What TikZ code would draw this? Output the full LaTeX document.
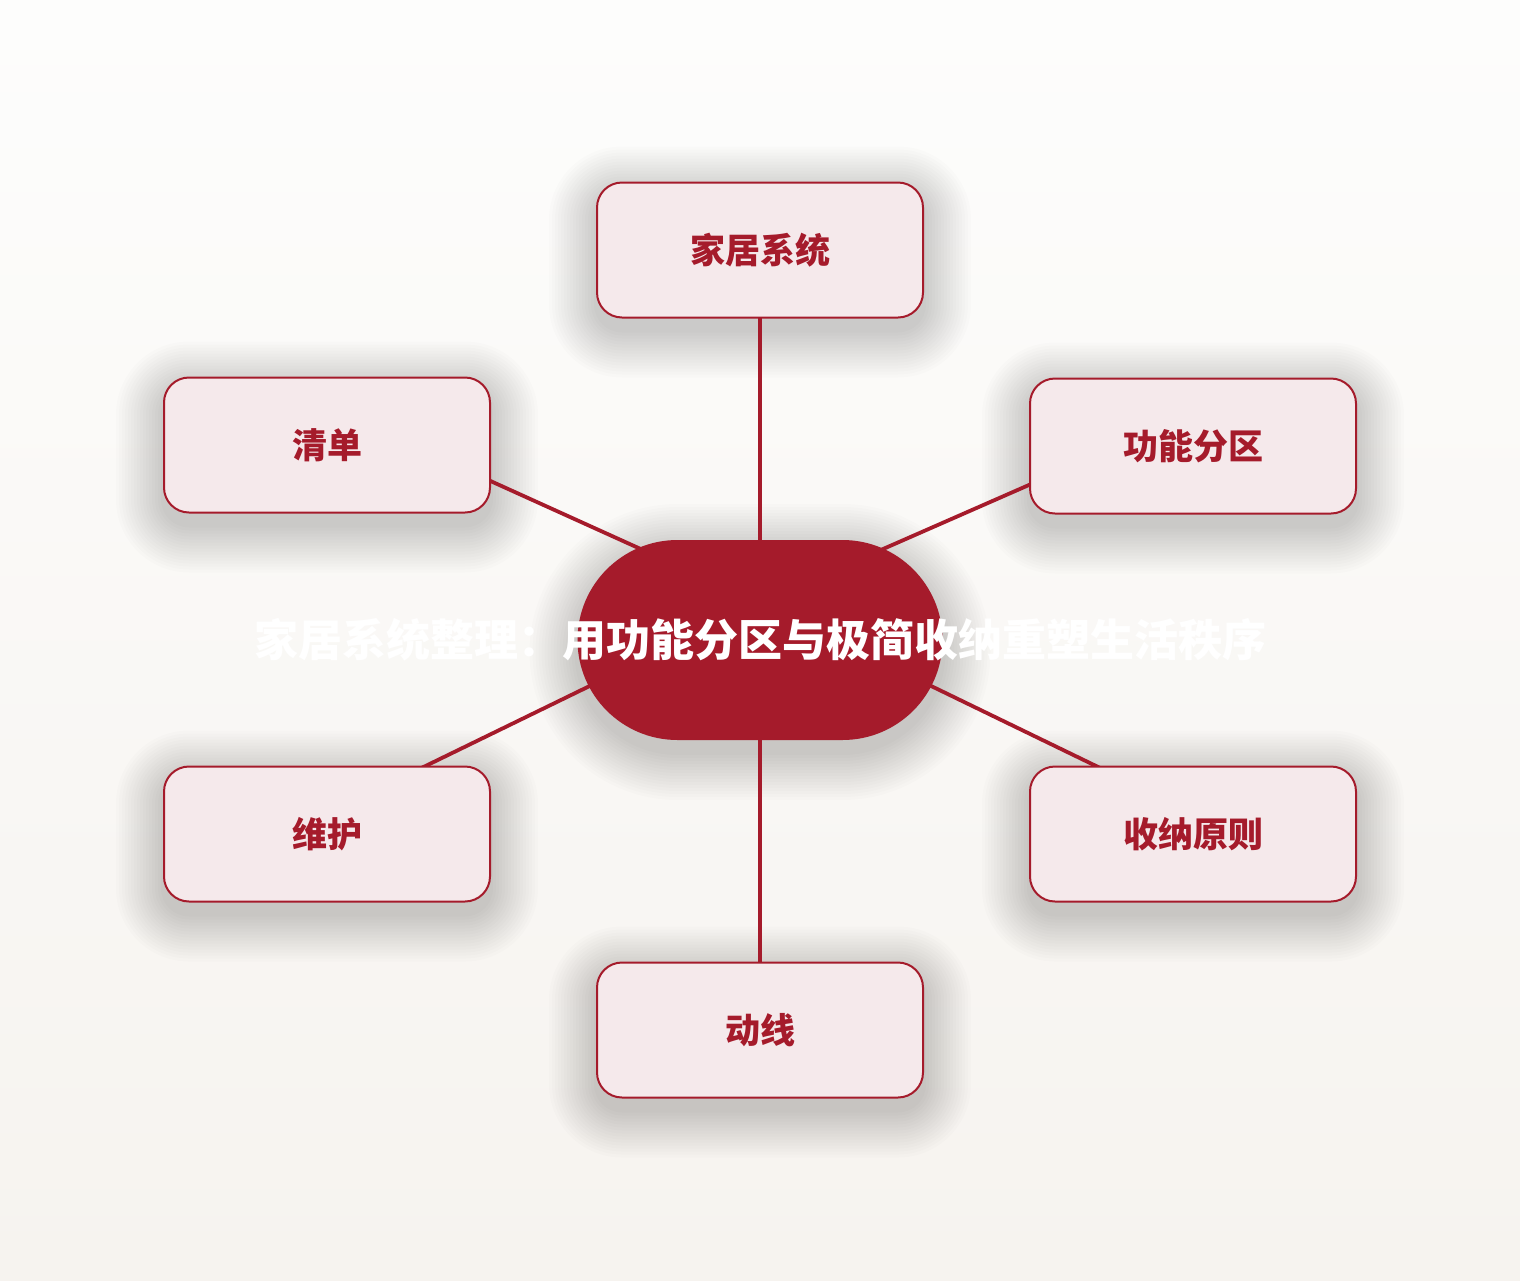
\documentclass[tikz,border=0pt]{standalone}
\usepackage{fontspec}
\newfontfamily\cjk{Noto Sans CJK SC}
\usepackage{xcolor}
\usepackage{tikz}
\usetikzlibrary{calc,backgrounds,shapes.misc,positioning}
\definecolor{brick}{HTML}{A51B2B}
\definecolor{blush}{HTML}{F5E9EB}
\definecolor{paperTop}{HTML}{FDFDFC}
\definecolor{paperBot}{HTML}{F6F3EF}
\pgfdeclarelayer{paper}
\pgfdeclarelayer{glow}
\pgfdeclarelayer{links}
\pgfsetlayers{paper,glow,links,main}
\tikzset{
  rootbox/.style={rounded rectangle,rounded rectangle arc length=180,fill=brick,
      minimum width=365pt,minimum height=200pt,inner sep=0pt},
  titletext/.style={text=white,font=\cjk\bfseries\fontsize{44pt}{50pt}\selectfont},
  topic/.style={rectangle,rounded corners=25pt,draw=brick,line width=2pt,fill=blush,
      minimum width=326pt,minimum height=135pt,inner sep=0pt,text=brick,
      font=\cjk\bfseries\fontsize{35pt}{40pt}\selectfont},
  link/.style={draw=brick,line width=3.8pt,line cap=round}
}
\newcommand{\rootat}[3]{\node[rootbox] (#1) at #2 {};
    \node[titletext] (#1Title) at (#1.center) {#3};}
\newcommand{\topicat}[3]{\node[topic] (#1) at #2 {#3};}
\newcommand{\connect}[3][]{\draw[link,#1] (#2)--(#3);}
% soft shadow: node, half width, half height, corner radius
\newcommand{\glow}[4]{\foreach \g in {1,...,16}
    \fill[black,opacity=0.011,rounded corners=#4+3pt*\g]
        ($(#1.center)+(-#2-3*\g,-#3-3*\g+12)$) rectangle
        ($(#1.center)+(#2+3*\g,#3+3*\g+12)$);}

\begin{document}
\begin{tikzpicture}[x=1pt,y=-1pt]
        \begin{pgfonlayer}{paper}
            \shade[top color=paperTop,bottom color=paperBot] (0,0) rectangle (1520,1280);
        \end{pgfonlayer}
        \useasboundingbox (0,0) rectangle (1520,1280);
        \rootat{Root}{(760,640)}{家居系统整理：用功能分区与极简收纳重塑生活秩序}
        \topicat{Home}{(760,250)}{家居系统}
        \topicat{List}{(327,445)}{清单}
        \topicat{Zones}{(1193,446)}{功能分区}
        \topicat{Care}{(327,834)}{维护}
        \topicat{Store}{(1193,834)}{收纳原则}
        \topicat{Flow}{(760,1030)}{动线}
        \coordinate (Hub) at ([yshift=37pt]Root.center);
        \begin{pgfonlayer}{glow}
            \glow{Root}{182.5}{100}{100pt}
            \foreach \n in {Home,List,Zones,Care,Store,Flow}
                \glow{\n}{163}{67.5}{25pt};
        \end{pgfonlayer}
        \begin{pgfonlayer}{links}
            \connect{Root.center}{Home.center}
            \connect{Hub}{[yshift=38pt]List.center}
            \connect{Hub}{[yshift=33pt]Zones.center}
            \connect{Hub}{[yshift=20pt]Care.center}
            \connect{Hub}{[yshift=21pt]Store.center}
            \connect{Root.center}{Flow.center}
        \end{pgfonlayer}
    \end{tikzpicture}
\end{document}
